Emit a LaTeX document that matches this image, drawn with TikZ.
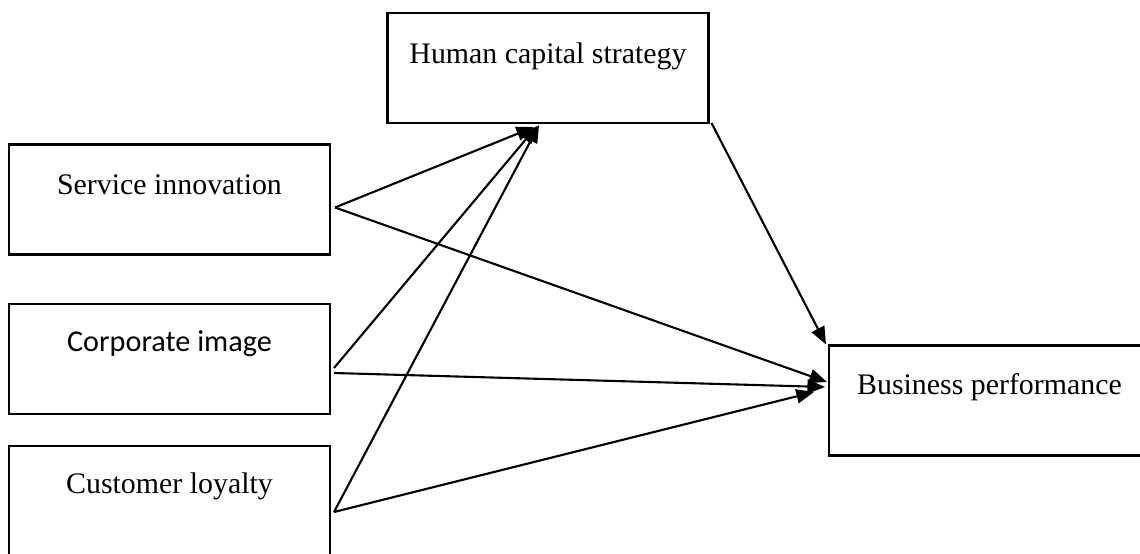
\documentclass[tikz,border=0pt]{standalone}
\usepackage{fontspec}
\setmainfont{Liberation Serif}
\newfontfamily\calibrifont{Carlito}
\usetikzlibrary{
    arrows.meta,
    calc,
    positioning
}

\begin{document}
\begin{tikzpicture}[x=0.02cm, y=-0.02cm,
    box/.style={draw, line width=1.2pt, minimum width=6.42cm, minimum height=2.2cm, inner sep=0pt},
    lbl/.style={anchor=base, inner sep=0pt, font=\fontsize{17}{20}\selectfont},
    arr/.style={line width=1.2pt, -{Triangle[length=10pt, width=8pt]}}]
    \path[use as bounding box, clip] (0, 0) rectangle (1140, 554);
    % boxes
    \node[box] (hcs) at (548, 68) {};
    \node[box] (si) at (169.5, 199.5) {};
    \node[box] (ci) at (169.5, 359) {};
    \node[box] (cl) at (169.5, 501) {};
    \node[box] (bp) at (989.5, 400.5) {};
    % texts
    \node[lbl] (hcs-t) at ($(hcs.north)+(0, 52)$) {Human capital strategy};
    \node[lbl] (si-t) at ($(si.north)+(0, 51)$) {Service innovation};
    \node[lbl, font=\calibrifont\fontsize{17.2}{20}\selectfont] (ci-t) at ($(ci.north)+(0, 49)$) {Corporate image};
    \node[lbl] (cl-t) at ($(cl.north)+(0, 49)$) {Customer loyalty};
    \node[lbl] (bp-t) at ($(bp.north)+(0, 50)$) {Business performance};
    % connector ends
    \coordinate (si-o) at ($(si.east)+(4, 8)$);
    \coordinate (ci-o1) at ($(ci.east)+(3, 9)$);
    \coordinate (ci-o2) at ($(ci.east)+(3, 14)$);
    \coordinate (cl-o) at ($(cl.east)+(3, 11)$);
    \coordinate (hcs-o) at ($(hcs.south east)+(2, -1)$);
    \coordinate (hcs-i1) at ($(hcs.south)+(-14, 3)$);
    \coordinate (hcs-i2) at ($(hcs.south)+(-11, 2)$);
    \coordinate (hcs-i3) at ($(hcs.south)+(-9, 1)$);
    \coordinate (bp-i0) at ($(bp.north west)+(-2, 0)$);
    \coordinate (bp-i1) at ($(bp.west)+(-1, -18.5)$);
    \coordinate (bp-i2) at ($(bp.west)+(-3, -13.5)$);
    \coordinate (bp-i3) at ($(bp.west)+(-14, -8.5)$);
    % arrows
    \draw[arr] (si-o) -- (hcs-i1);
    \draw[arr] (ci-o1) -- (hcs-i2);
    \draw[arr] (cl-o) -- (hcs-i3);
    \draw[arr] (si-o) -- (bp-i1);
    \draw[arr] (ci-o2) -- (bp-i2);
    \draw[arr] (cl-o) -- (bp-i3);
    \draw[arr] (hcs-o) -- (bp-i0);
\end{tikzpicture}
\end{document}
